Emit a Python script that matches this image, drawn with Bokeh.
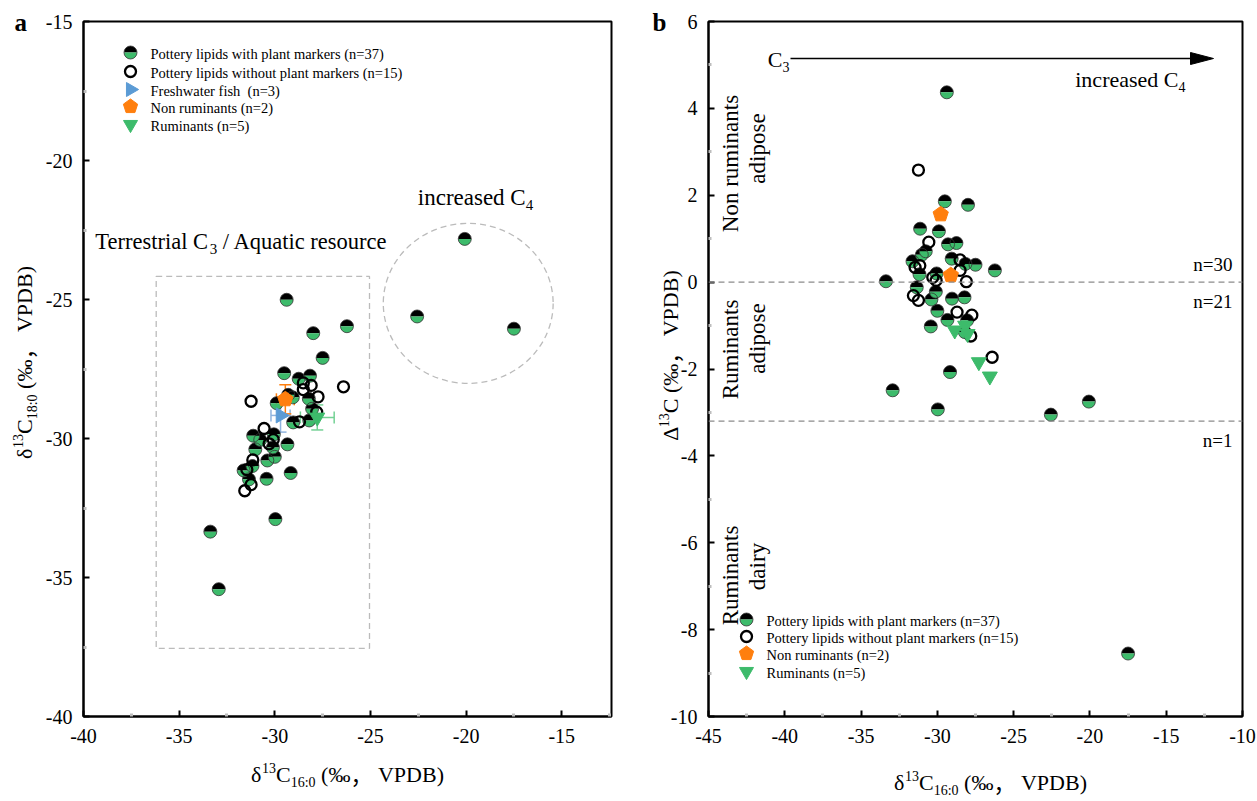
import numpy as np
from bokeh.plotting import figure
from bokeh.layouts import row, column
from bokeh.models import (Range1d, FixedTicker, Label, Span, Whisker, TeeHead,
                          ColumnDataSource)
from bokeh.embed import file_html
from bokeh.resources import INLINE

SERIF = "Liberation Serif"
CJK = "Noto Sans CJK SC"
GREEN = "#3dbb6b"
ORANGE = "#ff7f0e"
BLUE = "#5b9bd5"
NB = "\u00a0"

# ---- data: d13C16:0 and Delta13C (= d13C18:0 - d13C16:0), per-mil VPDB ----
plant_d16 = [-29.38, -29.51, -27.99, -31.13, -29.90, -29.30, -28.75, -30.76, -31.02,
             -31.63, -29.06, -28.16, -27.50, -26.23, -33.37, -31.17, -31.35, -30.10,
             -30.39, -29.04, -28.22, -30.00, -29.34, -28.05, -30.43, -29.17, -32.93,
             -29.97, -22.56, -20.07, -17.50, -28.20, -30.05]
plant_dc = [4.37, 1.86, 1.78, 1.23, 1.17, 0.87, 0.90, 0.71, 0.63,
            0.48, 0.54, 0.42, 0.40, 0.27, 0.02, 0.18, -0.12, -0.22,
            -0.40, -0.38, -0.35, -0.66, -0.87, -0.88, -1.02, -2.07, -2.49,
            -2.93, -3.05, -2.75, -8.55, -1.15, 0.20]

open_d16 = [-31.24, -30.56, -31.15, -31.46, -28.51, -28.51, -30.30, -30.08, -28.10,
            -31.57, -31.24, -28.71, -27.74, -27.81, -26.41]
open_dc = [2.58, 0.92, 0.38, 0.34, 0.51, 0.27, 0.11, 0.04, 0.01,
           -0.31, -0.42, -0.69, -0.76, -1.24, -1.73]

nonrum_d16 = [-29.78, -29.12]
nonrum_dc = [1.56, 0.16]

rum_d16 = [-28.86, -28.18, -28.02, -27.28, -26.56]
rum_dc = [-1.11, -1.00, -1.19, -1.84, -2.17]

# freshwater fish reference (mean, SD)
fish_d16_mean, fish_d16_sd = -29.70, 0.50
fish_d18_mean, fish_d18_sd = -29.17, 0.60

# reference boundaries on Delta13C
dc_bounds = [0.0, -3.2]

# axis ticks
a_xticks = [-40, -35, -30, -25, -20, -15]
a_yticks = [-40, -35, -30, -25, -20, -15]
b_xticks = [-45, -40, -35, -30, -25, -20, -15, -10]
b_yticks = [-10, -8, -6, -4, -2, 0, 2, 4, 6]

legend_a = ["Pottery lipids with plant markers (n=37)",
            "Pottery lipids without plant markers (n=15)",
            "Freshwater fish" + NB + " (n=3)",
            "Non ruminants (n=2)",
            "Ruminants (n=5)"]
legend_b = [legend_a[0], legend_a[1], legend_a[3], legend_a[4]]

# derived d13C18:0
plant_d18 = [a + b for a, b in zip(plant_d16, plant_dc)]
open_d18 = [a + b for a, b in zip(open_d16, open_dc)]
nonrum_d18 = [a + b for a, b in zip(nonrum_d16, nonrum_dc)]
rum_d18 = [a + b for a, b in zip(rum_d16, rum_dc)]

# ---- layout geometry (pixels) ----
FH = 695
A = dict(left=83, top=21, w=528, x0=-40, x1=-12.4, y0=-40, y1=-15)
B = dict(left=708, top=21, w=534, x0=-45, x1=-10, y0=-10, y1=6)
P = dict(left=0, top=0, sx=1.0, sy=-1.0, x0=0, y1=0)   # page pixels
for g in (A, B):
    g["sx"] = g["w"] / (g["x1"] - g["x0"])
    g["sy"] = FH / (g["y1"] - g["y0"])


def conv(g, px, py):
    return (g["x0"] + (px - g["left"]) / g["sx"],
            g["y1"] - (py - g["top"]) / g["sy"])


WID = {' ': .25, NB: .25, '(': .333, ')': .333, '‰': 1.0, '，': 1.0, '/': .278,
       '=': .564, '-': .333, ':': .278, 'δ': .5, 'Δ': .612, 'A': .722, 'B': .667,
       'C': .667, 'D': .722, 'N': .722, 'P': .556, 'T': .611, 'V': .722, 'R': .667,
       'a': .444, 'c': .444, 'd': .5, 'e': .444, 'f': .333, 'h': .5, 'i': .278,
       'k': .5, 'l': .278, 'm': .778, 'n': .5, 'o': .5, 'p': .5, 'q': .5, 'r': .333,
       's': .389, 't': .278, 'u': .5, 'w': .722, 'y': .5}
MID = 0.34   # em-box middle above the alphabetic baseline


def text_w(t, size):
    return sum(WID.get(ch, .5) for ch in t) * size


def rich(p, g, px, py, pieces, angle=0.0, align="center", color="black"):
    """Text made of runs with their own size, baseline shift and font;
    (px, py) is the common baseline point."""
    x, y = conv(g, px, py)
    widths = [text_w(pc[0], pc[1]) for pc in pieces]
    total = sum(widths)
    pos = {"center": -total / 2, "right": -total, "left": 0}[align]
    for pc, w in zip(pieces, widths):
        t, s, shift = pc[:3]
        font = pc[3] if len(pc) > 3 else SERIF
        up = shift + MID * s
        if angle == 0:
            xo, yo = pos, up
        else:
            xo, yo = -up, pos
        p.add_layout(Label(x=x, y=y, x_offset=xo, y_offset=yo, text=t, angle=angle,
                           text_font=font, text_font_size=f"{s}px", text_color=color,
                           text_align="left", text_baseline="middle"))
        pos += w


def plain(p, g, px, py, text, size, align="center", angle=0.0, style="normal"):
    x, y = conv(g, px, py)
    p.add_layout(Label(x=x, y=y, text=text, angle=angle, text_font=SERIF,
                       text_font_size=f"{size}px", text_align=align,
                       text_baseline="middle", text_font_style=style,
                       text_color="black"))


def half_dots(p, xs, ys):
    src = ColumnDataSource(dict(x=list(xs), y=list(ys)))
    p.wedge("x", "y", source=src, radius=6.5, radius_units="screen",
            start_angle=0, end_angle=np.pi, fill_color="black", line_color=None)
    p.wedge("x", "y", source=src, radius=6.5, radius_units="screen",
            start_angle=np.pi, end_angle=2 * np.pi, fill_color=GREEN, line_color=None)
    p.scatter("x", "y", source=src, size=13, fill_color=None, line_color="#333333",
              line_width=0.8)


def open_dots(p, xs, ys):
    p.scatter(list(xs), list(ys), size=11, fill_color="white", fill_alpha=0,
              line_color="black", line_width=2.3)


def pentagons(p, g, xs, ys, r=8.0):
    ang = np.pi / 2 + 2 * np.pi * np.arange(5) / 5
    pxs = [list(x + r * np.cos(ang) / g["sx"]) for x in xs]
    pys = [list(y + r * np.sin(ang) / g["sy"]) for y in ys]
    p.patches(pxs, pys, fill_color=ORANGE, line_color=ORANGE)


def down_tri(p, xs, ys, size=15):
    p.scatter(list(xs), list(ys), marker="inverted_triangle", size=size,
              fill_color=GREEN, line_color=GREEN)


def right_tri(p, xs, ys, size=15):
    p.scatter(list(xs), list(ys), marker="triangle", angle=-np.pi / 2, size=size,
              fill_color=BLUE, line_color=BLUE)


def make_fig(g, width, bl, br, xticks, yticks, xminor, yminor):
    p = figure(width=width, height=801, frame_width=g["w"], frame_height=FH,
               x_range=Range1d(g["x0"], g["x1"]), y_range=Range1d(g["y0"], g["y1"]),
               output_backend="svg", toolbar_location=None,
               min_border_left=bl, min_border_right=br,
               min_border_top=21, min_border_bottom=85)
    p.grid.grid_line_color = None
    p.outline_line_color = "black"
    p.outline_line_width = 2
    p.background_fill_color = "white"
    p.border_fill_color = "white"
    p.xaxis.ticker = FixedTicker(ticks=xticks, minor_ticks=xminor)
    p.yaxis.ticker = FixedTicker(ticks=yticks, minor_ticks=yminor)
    p.xaxis.major_label_overrides = {t: str(t) for t in xticks}
    p.yaxis.major_label_overrides = {t: str(t) for t in yticks}
    for ax in (p.xaxis[0], p.yaxis[0]):
        ax.axis_line_width = 2
        ax.axis_line_color = "black"
        ax.major_tick_in = 6
        ax.major_tick_out = 0
        ax.major_tick_line_width = 2
        ax.minor_tick_in = 3
        ax.minor_tick_out = 0
        ax.minor_tick_line_width = 3
        ax.minor_tick_line_color = "#bdbdbd"
        ax.major_label_text_font = SERIF
        ax.major_label_text_font_size = "20px"
        ax.major_label_text_color = "black"
    p.xaxis.major_label_standoff = 12
    p.yaxis.major_label_standoff = 11
    return p


def title_runs(prefix, sub):
    runs = [(prefix, 22, 0), ("13", 14, 9), ("C", 22, 0)]
    if sub:
        runs.append((sub, 14, -6))
    runs += [(NB + "(‰", 22, 0), ("，", 22, 0, CJK), (NB + "VPDB)", 22, 0)]
    return runs


# ================= panel a =================
pa = make_fig(A, 640, 83, 29, a_xticks, a_yticks,
              [-37.5, -32.5, -27.5, -22.5, -17.5, -12.5],
              [-37.5, -32.5, -27.5, -22.5, -17.5])

# source-region outlines
rect_l, rect_r, rect_b, rect_t = -36.2, -25.05, -37.55, -24.17
c4_x, c4_y, c4_w, c4_h = -19.89, -25.14, 8.88, 5.76
pa.quad(left=[rect_l], right=[rect_r], bottom=[rect_b], top=[rect_t],
        fill_color=None, line_color="#bbbbbb", line_dash="6 4", line_width=1.3)
pa.ellipse(x=[c4_x], y=[c4_y], width=[c4_w], height=[c4_h], fill_color=None,
           line_color="#bbbbbb", line_dash="6 4", line_width=1.3)

half_dots(pa, plant_d16, plant_d18)
open_dots(pa, open_d16, open_d18)

# reference animal groups: mean +/- SD
fish_mx, fish_my = [fish_d16_mean], [fish_d18_mean]
nr_mx, nr_my = [np.mean(nonrum_d16)], [np.mean(nonrum_d18)]
ru_mx, ru_my = [np.mean(rum_d16)], [np.mean(rum_d18)]
groups = [
    (fish_mx, fish_my, fish_d16_sd, fish_d18_sd, "#8fb3de"),
    (nr_mx, nr_my, np.std(nonrum_d16, ddof=1), np.std(nonrum_d18, ddof=1), ORANGE),
    (ru_mx, ru_my, np.std(rum_d16, ddof=1), np.std(rum_d18, ddof=1), "#74d195"),
]
right_tri(pa, fish_mx, fish_my)
pentagons(pa, A, nr_mx, nr_my)
down_tri(pa, ru_mx, ru_my)
for mx, my, sdx, sdy, col in groups:
    s = ColumnDataSource(dict(x=mx, y=my, xl=[mx[0] - sdx], xh=[mx[0] + sdx],
                              yl=[my[0] - sdy], yh=[my[0] + sdy]))
    pa.add_layout(Whisker(source=s, base="y", lower="xl", upper="xh", dimension="width",
                          line_color=col, line_width=1.5,
                          lower_head=TeeHead(size=12, line_color=col, line_width=1.5),
                          upper_head=TeeHead(size=12, line_color=col, line_width=1.5)))
    pa.add_layout(Whisker(source=s, base="x", lower="yl", upper="yh", dimension="height",
                          line_color=col, line_width=1.5,
                          lower_head=TeeHead(size=12, line_color=col, line_width=1.5),
                          upper_head=TeeHead(size=12, line_color=col, line_width=1.5)))

# legend a
rows_a = [52, 71, 89, 106, 124]
lx, ly = zip(*[conv(A, 130, r) for r in rows_a])
half_dots(pa, [lx[0]], [ly[0]])
open_dots(pa, [lx[1]], [ly[1]])
right_tri(pa, [lx[2]], [ly[2]], size=14)
pentagons(pa, A, [lx[3]], [ly[3]], r=7.5)
down_tri(pa, [lx[4]], [ly[4]], size=14)
for r, t in zip(rows_a, legend_a):
    plain(pa, A, 150, r + 1, t, 14.5, align="left")

rich(pa, A, 241, 249, [("Terrestrial C", 22.5, 0), ("3", 15, -5),
                       (NB + "/ Aquatic resource", 22.5, 0)])
rich(pa, A, 475, 205, [("increased C", 23, 0), ("4", 15, -5)])

# ================= panel b =================
pb = make_fig(B, 617, 68, 15, b_xticks, b_yticks,
              [-42.5, -37.5, -32.5, -27.5, -22.5, -17.5, -12.5],
              [-9, -7, -5, -3, -1, 1, 3, 5])

for yv in dc_bounds:
    pb.add_layout(Span(location=yv, dimension="width", line_color="#8c8c8c",
                       line_dash="6 4", line_width=1.3))

half_dots(pb, plant_d16, plant_dc)
open_dots(pb, open_d16, open_dc)
pentagons(pb, B, nonrum_d16, nonrum_dc)
down_tri(pb, rum_d16, rum_dc)

# C3 -> C4 arrow
ax0, ay0 = conv(B, 790, 58)
ax1, _ = conv(B, 1190, 58)
tipx, _ = conv(B, 1213, 58)
_, hy0 = conv(B, 0, 52)
_, hy1 = conv(B, 0, 64)
pb.line([ax0, ax1], [ay0, ay0], line_color="black", line_width=1.3)
pb.patch([ax1, tipx, ax1], [hy0, ay0, hy1], fill_color="black", line_color="black")
rich(pb, B, 789, 66, [("C", 22, 0), ("3", 14, -5)], align="right")
rich(pb, B, 1185, 86, [("increased C", 22, 0), ("4", 14, -5)], align="right")

# zone labels
zones = [("Non ruminants", "adipose", 163, 148),
         ("Ruminants", "adipose", 349, 338),
         ("Ruminants", "dairy", 575, 566)]
for l1, l2, c1, c2 in zones:
    plain(pb, B, 730, c1, l1, 23, angle=np.pi / 2)
    plain(pb, B, 757, c2, l2, 23, angle=np.pi / 2)

plain(pb, B, 1232, 264, "n=30", 19, align="right")
plain(pb, B, 1232, 301, "n=21", 19, align="right")
plain(pb, B, 1232, 440, "n=1", 19, align="right")

# legend b
rows_b = [619, 636, 653, 671]
bx, by = zip(*[conv(B, 746, r) for r in rows_b])
half_dots(pb, [bx[0]], [by[0]])
open_dots(pb, [bx[1]], [by[1]])
pentagons(pb, B, [bx[2]], [by[2]], r=7.5)
down_tri(pb, [bx[3]], [by[3]], size=14)
for r, t in zip(rows_b, legend_b):
    plain(pb, B, 766, r + 1, t, 14.5, align="left")

# ============ page layer with axis titles and panel letters ============
ov = figure(width=1257, height=801, x_range=Range1d(0, 1257), y_range=Range1d(801, 0),
            output_backend="svg", toolbar_location=None,
            x_axis_location=None, y_axis_location=None, min_border=0,
            styles={"position": "absolute", "left": "0px", "top": "0px",
                    "pointer-events": "none"})
ov.grid.grid_line_color = None
ov.outline_line_color = None
ov.background_fill_alpha = 0
ov.border_fill_alpha = 0

rich(ov, P, 347, 781, title_runs("δ", "16:0"))
rich(ov, P, 990, 789, title_runs("δ", "16:0"))
rich(ov, P, 31, 362, title_runs("δ", "18:0"), angle=np.pi / 2)
rich(ov, P, 677, 355, title_runs("Δ", None), angle=np.pi / 2)
plain(ov, P, 14, 22, "a", 25, align="left", style="bold")
plain(ov, P, 652, 22, "b", 25, align="left", style="bold")

layout = column(row(pa, pb), ov)
open("out.html", "w").write(file_html(layout, INLINE))
